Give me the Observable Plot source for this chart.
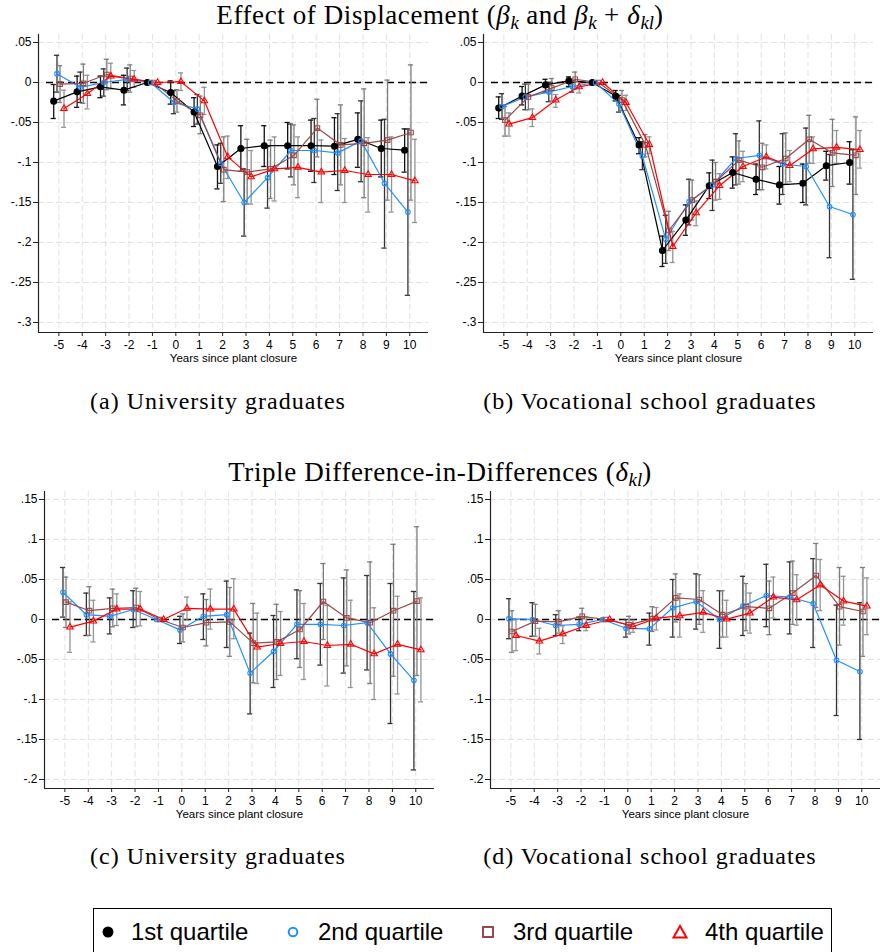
<!DOCTYPE html>
<html><head><meta charset="utf-8">
<script src="https://cdn.jsdelivr.net/npm/d3@7"></script>
<script src="https://cdn.jsdelivr.net/npm/@observablehq/plot@0.6"></script>
<style>
body{margin:0;background:#fff;}
#root{position:relative;width:880px;height:952px;overflow:hidden;background:#fff;}
.ttl{position:absolute;left:0;width:880px;text-align:center;font-family:"Liberation Serif","Times New Roman",serif;font-size:27px;line-height:27px;letter-spacing:0.6px;white-space:nowrap;color:#000;}
.sub{position:absolute;width:440px;text-align:center;font-family:"Liberation Serif","Times New Roman",serif;font-size:24px;line-height:24px;letter-spacing:1px;white-space:nowrap;color:#000;}
.ttl i,.sub i{font-style:italic;}
sub{font-size:70%;vertical-align:-0.25em;line-height:0;letter-spacing:0;}
.panel{position:absolute;}
#legend{position:absolute;left:93px;top:908px;width:739px;height:60px;border:1.5px solid #000;box-sizing:border-box;}
.li{position:absolute;top:11px;font-family:"Liberation Sans",Arial,sans-serif;font-size:24px;line-height:24px;white-space:nowrap;color:#000;}
</style></head><body><div id="root"></div>
<script>
const years = [-5,-4,-3,-2,-1,0,1,2,3,4,5,6,7,8,9,10];
const yTicksTop = [0.05,0,-0.05,-0.1,-0.15,-0.2,-0.25,-0.3];
const yLabelsTop = [".05","0","-.05","-.1","-.15","-.2","-.25","-.3"];
const yTicksBottom = [0.15,0.1,0.05,0,-0.05,-0.1,-0.15,-0.2];
const yLabelsBottom = [".15",".1",".05","0","-.05","-.1","-.15","-.2"];
const quartileNames = ["1st quartile","2nd quartile","3rd quartile","4th quartile"];
const xTitle = "Years since plant closure";

// Panel (a) University graduates, beta_k and beta_k + delta_kl
const a1 = [-0.0233,-0.0117,-0.0054,-0.0096,0,-0.0125,-0.037,-0.105,-0.0825,-0.079,-0.079,-0.079,-0.0796,-0.071,-0.0825,-0.0846];
const a1Lo = [-0.045,-0.031,-0.019,-0.028,null,-0.027,-0.055,-0.133,-0.111,-0.105,-0.108,-0.111,-0.115,-0.106,-0.118,-0.112];
const a1Hi = [-0.0025,0.008,0.008,0.009,null,0.002,-0.019,-0.078,-0.054,-0.054,-0.050,-0.047,-0.044,-0.038,-0.047,-0.058];
const a2 = [0.011,-0.006,0.0,0.004,0,-0.025,-0.033,-0.101,-0.150,-0.119,-0.085,-0.085,-0.088,-0.073,-0.126,-0.162];
const a2Lo = [-0.012,-0.025,-0.017,-0.010,null,-0.039,-0.052,-0.126,-0.192,-0.157,-0.118,-0.125,-0.135,-0.124,-0.207,-0.266];
const a2Hi = [0.034,0.013,0.017,0.018,null,-0.010,-0.015,-0.076,-0.108,-0.080,-0.052,-0.045,-0.039,-0.023,-0.046,-0.058];
const a3 = [-0.002,-0.001,0.010,0.005,0,-0.023,-0.041,-0.109,-0.112,-0.108,-0.091,-0.057,-0.078,-0.076,-0.072,-0.0625];
const a3Lo = [-0.025,-0.026,-0.009,-0.012,null,-0.037,-0.064,-0.149,-0.152,-0.145,-0.128,-0.093,-0.128,-0.144,-0.147,-0.147];
const a3Hi = [0.021,0.023,0.029,0.022,null,-0.009,-0.017,-0.068,-0.071,-0.072,-0.053,-0.021,-0.028,-0.008,0.003,0.022];
const a4 = [-0.0325,-0.014,0.008,0.004,0,0.001,-0.023,-0.093,-0.118,-0.108,-0.106,-0.112,-0.110,-0.115,-0.115,-0.123];
const a4Lo = [-0.056,-0.033,-0.008,-0.006,null,-0.010,-0.040,-0.120,-0.152,-0.148,-0.144,-0.150,-0.150,-0.162,-0.162,-0.175];
const a4Hi = [-0.0096,0.009,0.024,0.015,null,0.012,-0.006,-0.067,-0.085,-0.068,-0.068,-0.072,-0.070,-0.069,-0.068,-0.071];

// Panel (b) Vocational school graduates
const b1 = [-0.032,-0.017,-0.003,0.002,0,-0.017,-0.078,-0.210,-0.172,-0.129,-0.1125,-0.121,-0.128,-0.126,-0.104,-0.100];
const b1Lo = [-0.045,-0.028,-0.012,-0.005,null,-0.023,-0.089,-0.230,-0.191,-0.145,-0.132,-0.140,-0.152,-0.150,-0.122,-0.127];
const b1Hi = [-0.018,-0.005,0.004,0.007,null,-0.010,-0.069,-0.192,-0.153,-0.113,-0.093,-0.102,-0.105,-0.102,-0.086,-0.074];
const b2 = [-0.030,-0.018,-0.012,-0.005,0,-0.027,-0.092,-0.196,-0.149,-0.128,-0.095,-0.091,-0.102,-0.105,-0.155,-0.165];
const b2Lo = [-0.046,-0.034,-0.024,-0.012,null,-0.037,-0.109,-0.226,-0.178,-0.160,-0.128,-0.134,-0.140,-0.153,-0.219,-0.246];
const b2Hi = [-0.014,-0.002,0.000,0.002,null,-0.016,-0.074,-0.166,-0.121,-0.097,-0.064,-0.048,-0.064,-0.057,-0.090,-0.084];
const b3 = [-0.047,-0.018,-0.007,0.004,0,-0.022,-0.078,-0.185,-0.147,-0.124,-0.097,-0.106,-0.095,-0.071,-0.088,-0.091];
const b3Lo = [-0.067,-0.034,-0.023,-0.008,null,-0.035,-0.093,-0.210,-0.172,-0.147,-0.127,-0.134,-0.127,-0.101,-0.130,-0.140];
const b3Hi = [-0.030,-0.002,0.005,0.013,null,-0.010,-0.065,-0.161,-0.122,-0.100,-0.073,-0.076,-0.063,-0.041,-0.046,-0.043];
const b4 = [-0.052,-0.044,-0.022,-0.0054,0,-0.025,-0.0775,-0.205,-0.163,-0.129,-0.105,-0.093,-0.104,-0.083,-0.081,-0.084];
const b4Lo = [-0.067,-0.055,-0.031,-0.013,null,-0.035,-0.089,-0.225,-0.179,-0.146,-0.124,-0.108,-0.124,-0.101,-0.101,-0.107];
const b4Hi = [-0.038,-0.033,-0.015,0.001,null,-0.016,-0.068,-0.186,-0.148,-0.114,-0.086,-0.078,-0.085,-0.068,-0.060,-0.060];

// Panel (c) University graduates, delta_kl
const c2 = [0.034,0.006,0.004,0.0125,0,-0.013,0.004,0.006,-0.067,-0.040,-0.006,-0.006,-0.0075,-0.004,-0.043,-0.076];
const c2Lo = [0.003,-0.020,-0.018,-0.010,null,-0.030,-0.025,-0.035,-0.118,-0.085,-0.049,-0.057,-0.067,-0.063,-0.130,-0.188];
const c2Hi = [0.065,0.033,0.027,0.036,null,0.004,0.032,0.048,-0.017,0.005,0.037,0.045,0.052,0.055,0.045,0.035];
const c3 = [0.0217,0.011,0.014,0.015,0,-0.010,-0.004,-0.003,-0.0296,-0.028,-0.0125,0.0225,0.002,-0.004,0.011,0.023];
const c3Lo = [-0.010,-0.020,-0.009,-0.009,null,-0.028,-0.033,-0.046,-0.079,-0.075,-0.060,-0.025,-0.058,-0.080,-0.071,-0.070];
const c3Hi = [0.053,0.041,0.038,0.039,null,0.007,0.025,0.040,0.020,0.019,0.036,0.070,0.062,0.072,0.094,0.116];
const c4 = [-0.0096,-0.002,0.013,0.013,0,0.014,0.013,0.013,-0.0346,-0.030,-0.0275,-0.0325,-0.031,-0.043,-0.031,-0.038];
const c4Lo = [-0.041,-0.028,-0.0075,-0.008,null,-0.001,-0.012,-0.024,-0.080,-0.070,-0.075,-0.083,-0.085,-0.100,-0.093,-0.103];
const c4Hi = [0.022,0.024,0.032,0.035,null,0.028,0.038,0.051,0.008,0.010,0.020,0.0175,0.024,0.0146,0.029,0.027];

// Panel (d) Vocational school graduates, delta_kl
const d2 = [0.001,0,-0.0075,-0.006,0,-0.011,-0.0117,0.0146,0.0225,0,0.0167,0.030,0.028,0.020,-0.051,-0.065];
const d2Lo = [-0.024,-0.021,-0.020,-0.014,null,-0.022,-0.032,-0.022,-0.012,-0.036,-0.020,-0.009,-0.018,-0.035,-0.120,-0.150];
const d2Hi = [0.026,0.021,0.006,0.003,null,0.000,0.008,0.050,0.057,0.036,0.054,0.069,0.072,0.076,0.018,0.021];
const d3 = [-0.015,-0.002,-0.003,0.004,0,-0.0067,0.001,0.027,0.025,0.006,0.016,0.014,0.033,0.055,0.016,0.010];
const d3Lo = [-0.041,-0.021,-0.017,-0.007,null,-0.018,-0.015,-0.003,-0.006,-0.022,-0.014,-0.019,-0.006,0.015,-0.032,-0.046];
const d3Hi = [0.011,0.019,0.011,0.014,null,0.004,0.016,0.057,0.056,0.036,0.045,0.048,0.073,0.095,0.065,0.065];
const d4 = [-0.020,-0.027,-0.018,-0.0075,0,-0.009,0.0017,0.0046,0.009,0.0004,0.008,0.028,0.0246,0.043,0.023,0.0167];
const d4Lo = [-0.039,-0.043,-0.030,-0.014,null,-0.016,-0.013,-0.022,-0.016,-0.022,-0.017,0.002,-0.007,0.011,-0.007,-0.019];
const d4Hi = [0.000,-0.011,-0.008,0.003,null,-0.001,0.015,0.032,0.036,0.024,0.033,0.053,0.056,0.075,0.054,0.052];

// styling
const lineColors = ["#000000","#1e90ff","#9b4848","#ff0000"];
const barColors = ["#111111","#333333","#7d7d7d","#949494"];
const offsets = [-0.22,-0.08,0.05,0.22];
const symbols = ["circle","circle","square","triangle"];
const symR = [3,2.3,2.6,2.4];
const symFill = ["#000000","none","none","none"];
const xDomain = [-5.87, 10.8];
const capHalf = 0.11;

function rowsFor(q, est, lo, hi) {
  return years.map((yr, i) => ({x: yr + offsets[q], est: est[i], lo: lo[i], hi: hi[i]}));
}

function panel(series, yDomain, yTicks, yLabels, plotH) {
  const bars = [], lines = [], dots = [];
  for (const s of series) {
    const rows = rowsFor(s.q, s.est, s.lo, s.hi);
    const ci = rows.filter(d => d.lo != null);
    const c = barColors[s.q];
    bars.push(Plot.ruleX(ci, {x: "x", y1: "lo", y2: "hi", stroke: c, strokeWidth: 1.3}));
    bars.push(Plot.ruleY(ci, {y: "lo", x1: d => d.x - capHalf, x2: d => d.x + capHalf, stroke: c, strokeWidth: 1.3}));
    bars.push(Plot.ruleY(ci, {y: "hi", x1: d => d.x - capHalf, x2: d => d.x + capHalf, stroke: c, strokeWidth: 1.3}));
    lines.push(Plot.line(rows, {x: "x", y: "est", stroke: lineColors[s.q], strokeWidth: 1.2}));
    dots.push(Plot.dot(rows, {x: "x", y: "est", symbol: () => symbols[s.q], r: symR[s.q],
      fill: symFill[s.q], stroke: lineColors[s.q], strokeWidth: 1.1}));
  }
  return Plot.plot({
    width: 430, height: 34 + plotH + 40,
    marginLeft: 38, marginRight: 2, marginTop: 34, marginBottom: 40,
    style: {fontFamily: "'Liberation Sans', Arial, sans-serif", fontSize: "12px", color: "#000", background: "transparent", overflow: "visible"},
    x: {domain: xDomain},
    y: {domain: yDomain},
    symbol: {type: "identity"},
    marks: [
      Plot.gridX({ticks: years, stroke: "#e2e2e2", strokeOpacity: 1, strokeDasharray: "6,3", strokeWidth: 1}),
      Plot.gridY({ticks: yTicks, stroke: "#e2e2e2", strokeOpacity: 1, strokeDasharray: "6,3", strokeWidth: 1}),
      Plot.ruleY([0], {stroke: "#000", strokeDasharray: "7,4", strokeWidth: 1.3, insetLeft: 8}),
      ...bars, ...lines, ...dots,
      Plot.ruleX([xDomain[0]], {stroke: "#222", strokeWidth: 1.2}),
      Plot.ruleY([yDomain[0]], {stroke: "#222", strokeWidth: 1.2}),
      Plot.axisX({ticks: years, tickSize: 4, tickPadding: 4, tickFormat: d => String(d), label: null, fontSize: 12, stroke: "#222"}),
      Plot.axisY({ticks: yTicks, tickSize: 5, tickPadding: 2, tickFormat: d => yLabels[yTicks.indexOf(d)], label: null, fontSize: 12, stroke: "#222"}),
      Plot.text([xTitle], {text: d => d, frameAnchor: "bottom", dy: 29, fontSize: 11.5, fill: "#000"})
    ]
  });
}

const root = document.getElementById("root");
function place(el, left, top) { el.classList.add("panel"); el.style.left = left + "px"; el.style.top = top + "px"; root.appendChild(el); }

const topDomain = [0.06 - 298/800, 0.06];
const botDomain = [0.16 - 297/800, 0.16];

place(panel([
  {q:0, est:a1, lo:a1Lo, hi:a1Hi},{q:1, est:a2, lo:a2Lo, hi:a2Hi},{q:2, est:a3, lo:a3Lo, hi:a3Hi},{q:3, est:a4, lo:a4Lo, hi:a4Hi}
], topDomain, yTicksTop, yLabelsTop, 298), 0, 0);
place(panel([
  {q:0, est:b1, lo:b1Lo, hi:b1Hi},{q:1, est:b2, lo:b2Lo, hi:b2Hi},{q:2, est:b3, lo:b3Lo, hi:b3Hi},{q:3, est:b4, lo:b4Lo, hi:b4Hi}
], topDomain, yTicksTop, yLabelsTop, 298), 445, 0);
place(panel([
  {q:1, est:c2, lo:c2Lo, hi:c2Hi},{q:2, est:c3, lo:c3Lo, hi:c3Hi},{q:3, est:c4, lo:c4Lo, hi:c4Hi}
], botDomain, yTicksBottom, yLabelsBottom, 297), 6, 457);
place(panel([
  {q:1, est:d2, lo:d2Lo, hi:d2Hi},{q:2, est:d3, lo:d3Lo, hi:d3Hi},{q:3, est:d4, lo:d4Lo, hi:d4Hi}
], botDomain, yTicksBottom, yLabelsBottom, 297), 452, 457);

function addHTML(cls, html, left, top) {
  const d = document.createElement("div"); d.className = cls; d.innerHTML = html;
  if (left != null) d.style.left = left + "px"; d.style.top = top + "px"; root.appendChild(d); return d;
}
addHTML("ttl", 'Effect of Displacement (<i>β</i><sub><i>k</i></sub> and <i>β</i><sub><i>k</i></sub> + <i>δ</i><sub><i>kl</i></sub>)', null, 2);
addHTML("ttl", 'Triple Difference-in-Differences (<i>δ</i><sub><i>kl</i></sub>)', null, 459);
addHTML("sub", '(a) University graduates', -2, 389);
addHTML("sub", '(b) Vocational school graduates', 430, 389);
addHTML("sub", '(c) University graduates', -2, 844);
addHTML("sub", '(d) Vocational school graduates', 430, 844);

// legend
const leg = document.createElement("div"); leg.id = "legend"; root.appendChild(leg);
const ns = "http://www.w3.org/2000/svg";
const lsvg = document.createElementNS(ns, "svg");
lsvg.setAttribute("width", 739); lsvg.setAttribute("height", 60);
lsvg.style.position = "absolute"; lsvg.style.left = "-1.5px"; lsvg.style.top = "-1.5px";
lsvg.innerHTML =
  '<circle cx="15" cy="24" r="5.5" fill="#000"/>' +
  '<circle cx="200" cy="24" r="4.3" fill="none" stroke="#1e90ff" stroke-width="2"/>' +
  '<rect x="390" y="19" width="10" height="10" fill="none" stroke="#9b4848" stroke-width="2"/>' +
  '<path d="M587,18 L593.5,29.5 L580.5,29.5 Z" fill="none" stroke="#ff0000" stroke-width="2"/>';
leg.appendChild(lsvg);
const textX = [37, 224, 419, 611];
quartileNames.forEach((n, i) => {
  const t = document.createElement("div"); t.className = "li"; t.textContent = n; t.style.left = textX[i] + "px"; leg.appendChild(t);
});
</script></body></html>
